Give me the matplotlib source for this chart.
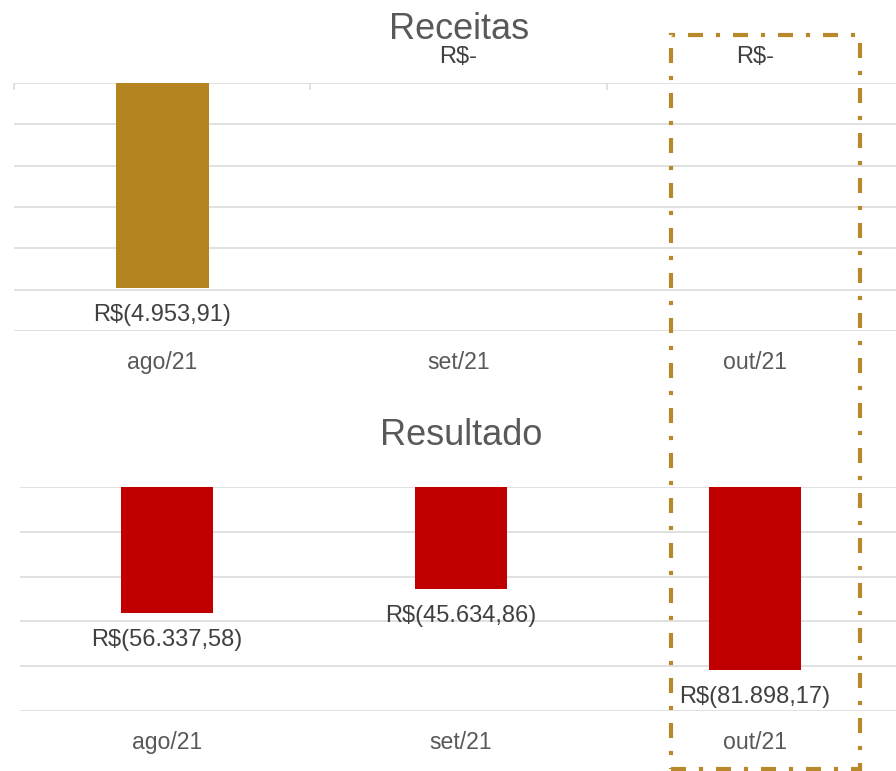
import matplotlib
matplotlib.use("Agg")
import matplotlib.pyplot as plt
from matplotlib.patches import Rectangle

# ---- data ----
categories = ["ago/21", "set/21", "out/21"]
receitas = [-4953.91, 0.0, 0.0]
resultado = [-56337.58, -45634.86, -81898.17]
receitas_labels = ["R$(4.953,91)", "R$-", "R$-"]
resultado_labels = ["R$(56.337,58)", "R$(45.634,86)", "R$(81.898,17)"]
receitas_ticks = [-6000, -5000, -4000, -3000, -2000, -1000, 0]
resultado_ticks = [-100000, -80000, -60000, -40000, -20000, 0]

W, H = 896, 771
plt.rcParams['font.family'] = ['Liberation Sans', 'DejaVu Sans']
fig = plt.figure(figsize=(W / 100, H / 100), dpi=100)

GOLD = "#B38420"
RED = "#C00000"
GRID = "#D9D9D9"
LBL = "#404040"
CAT = "#595959"


def px_axes(x0, x1, y_top, y_bot):
    return fig.add_axes([x0 / W, (H - y_bot) / H, (x1 - x0) / W, (y_bot - y_top) / H])


def style(ax, ticks):
    ax.set_ylim(ticks[0], ticks[-1])
    ax.set_yticks(ticks)
    ax.set_xlim(-0.5, len(categories) - 0.5)
    ax.grid(axis='y', color=GRID, linewidth=1.1)
    ax.set_axisbelow(True)
    for s in ax.spines.values():
        s.set_visible(False)
    ax.tick_params(axis='y', length=0, labelleft=False)
    ax.set_xticks([])


def draw(ax, values, labels, color, title, title_base, title_x):
    x = list(range(len(categories)))
    ax.bar(x, values, width=0.314, color=color, zorder=3)
    for xi, v, lab in zip(x, values, labels):
        if v < 0:
            ax.annotate(lab, (xi, v), xytext=(0, -33), textcoords='offset pixels',
                        ha='center', va='baseline', fontsize=17, color=LBL)
        else:
            ax.annotate(lab, (xi, v), xytext=(0, 20), textcoords='offset pixels',
                        ha='center', va='baseline', fontsize=17, color=LBL)
    for xi, c in zip(x, categories):
        ax.annotate(c, (xi, 0), xycoords=('data', 'axes fraction'),
                    xytext=(0, -38), textcoords='offset pixels',
                    ha='center', va='baseline', fontsize=16.6, color=CAT)
    fig.text(title_x / W, (H - title_base) / H, title, ha='center', va='baseline',
             fontsize=26, color=CAT)


ax1 = px_axes(14, 903, 83, 331)
style(ax1, receitas_ticks)
ax1.xaxis.tick_top()
ax1.set_xticks([-0.5, 0.5, 1.5, 2.5], minor=True)
ax1.tick_params(axis='x', which='minor', direction='in', length=5, width=1.1, color=GRID)
ax1.tick_params(axis='x', which='major', length=0, labeltop=False, labelbottom=False)
draw(ax1, receitas, receitas_labels, GOLD, "Receitas", 39, 459.5)

ax2 = px_axes(20, 902, 487, 711)
style(ax2, resultado_ticks)
draw(ax2, resultado, resultado_labels, RED, "Resultado", 445, 461.5)

# highlight frame around the last month
rect = Rectangle((670.5 / W, (H - 769) / H), 189 / W, 734 / H, transform=fig.transFigure,
                 fill=False, edgecolor="#B8892A", linewidth=3,
                 linestyle=(0, (3.6, 3.1, 1.0, 3.1)), zorder=10, clip_on=False)
rect.set_capstyle('butt')
fig.patches.append(rect)

fig.savefig("out.png", dpi=100)
